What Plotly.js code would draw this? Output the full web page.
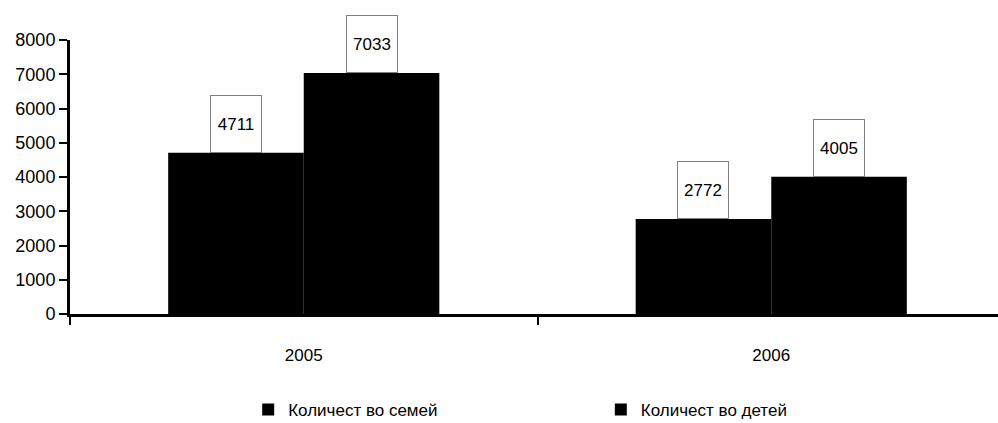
<!DOCTYPE html>
<html>
<head>
<meta charset="utf-8">
<script src="https://cdn.plot.ly/plotly-3.0.1.min.js"></script>
<style>html,body{margin:0;padding:0;background:#fff;}#chart{width:998px;height:423px;}</style>
</head>
<body>
<div id="chart"></div>
<script>
var years = ['2005', '2006'];
var families = [4711, 2772];
var children = [7033, 4005];
var seriesNames = ['Количест во семей', 'Количест во детей'];
var yTicks = [0, 1000, 2000, 3000, 4000, 5000, 6000, 7000, 8000];

var font = {family: 'Liberation Sans, Arial, sans-serif', size: 17, color: '#000'};
var tickFont = {family: 'Liberation Sans, Arial, sans-serif', size: 18, color: '#000'};
var legFont = {family: 'Liberation Sans Narrow, Liberation Sans, Arial, sans-serif', size: 17, color: '#000'};
var half = 0.145;

var traces = [
  {type: 'bar', x: years, y: families, name: seriesNames[0], marker: {color: '#000', line: {width: 0}}, hoverinfo: 'none', legend: 'legend'},
  {type: 'bar', x: years, y: children, name: seriesNames[1], marker: {color: '#000', line: {width: 0}}, hoverinfo: 'none', legend: 'legend2'}
];

var annotations = [];
[families, children].forEach(function (vals, s) {
  vals.forEach(function (v, i) {
    annotations.push({
      x: i + (s === 0 ? -half : half), y: v, xref: 'x', yref: 'y',
      text: String(v), showarrow: false, yanchor: 'bottom',
      width: 48, height: 54, bgcolor: '#fff', bordercolor: '#808080', borderwidth: 1, borderpad: 1,
      font: font
    });
  });
});

var legendBase = {orientation: 'h', xanchor: 'left', y: -0.35, yanchor: 'middle', font: legFont, itemclick: false, itemwidth: 30, bgcolor: 'rgba(0,0,0,0)'};
var leg1 = Object.assign({}, legendBase, {x: 0.192});
var leg2 = Object.assign({}, legendBase, {x: 0.572});

var layout = {
  width: 998, height: 423,
  margin: {l: 70, r: 0, t: 40, b: 109, autoexpand: false},
  paper_bgcolor: '#fff', plot_bgcolor: '#fff',
  font: font,
  barmode: 'group', bargap: 0.42, bargroupgap: 0,
  showlegend: true,
  legend: leg1,
  legend2: leg2,
  xaxis: {
    type: 'category', range: [-0.5, 1.485], tickson: 'boundaries', ticks: 'outside', ticklen: 8, tickwidth: 2, tickcolor: '#000',
    showline: true, linecolor: '#000', linewidth: 3, showgrid: false, zeroline: false, ticklabelstandoff: 24, tickfont: font
  },
  yaxis: {
    range: [0, 8000], tickvals: yTicks, ticktext: yTicks.map(String), ticks: 'outside', ticklen: 8, tickwidth: 2, tickcolor: '#000',
    showline: true, linecolor: '#000', linewidth: 3, showgrid: false, zeroline: false, tickfont: tickFont
  },
  annotations: annotations
};

Plotly.newPlot('chart', traces, layout, {displayModeBar: false, staticPlot: true});
</script>
</body>
</html>
